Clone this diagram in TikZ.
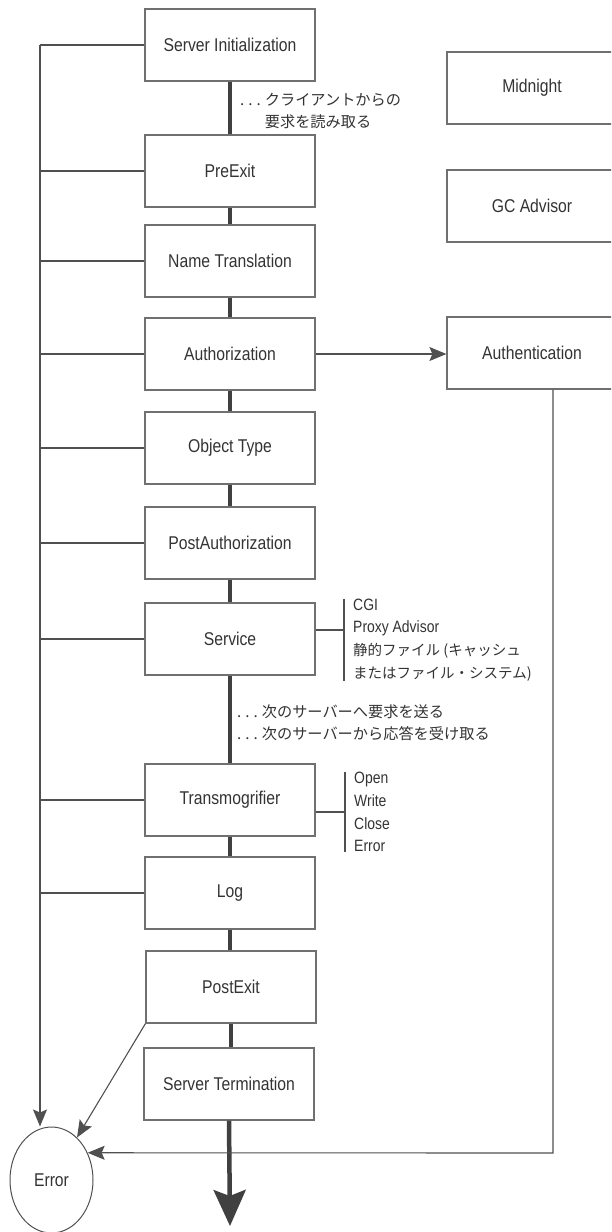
\documentclass[tikz,border=0pt]{standalone}
\usepackage{fontspec}
\setmainfont{Liberation Sans}[FakeStretch=0.85]
\newfontfamily\jp{Noto Sans CJK JP}
\usetikzlibrary{arrows.meta,shapes.geometric,calc}
\definecolor{boxgray}{HTML}{707070}
\definecolor{linegray}{HTML}{505050}
\definecolor{thickgray}{HTML}{404040}
\definecolor{textgray}{HTML}{333333}
\tikzset{>={Stealth[length=17pt,width=14pt,inset=3pt]}}
\tikzset{
  stagebox/.style={draw=boxgray,line width=1.2pt,minimum width=170pt,minimum height=72pt,
    inner sep=0pt,text=textgray,font=\fontsize{18.5}{22}\selectfont},
  flow/.style={line width=4.5pt,thickgray},
  wire/.style={line width=1.1pt,linegray},
  listtext/.style={anchor=west,align=left,inner xsep=9pt,inner ysep=0pt,text=textgray,
    font=\fontsize{16.4}{22.7}\selectfont},
  jnote/.style={anchor=west,align=left,inner sep=0pt,text=textgray,
    font=\jp\fontsize{15.2}{22.5}\selectfont},
}
\newcommand{\jdots}{.\hspace{4pt}.\hspace{4pt}.\hspace{4pt}}
\newcommand{\jsmall}{\jp\fontsize{14.5}{22.7}\selectfont}

\begin{document}
\begin{tikzpicture}[x=1pt,y=-1pt]
    \clip (0,0) rectangle (611,1232);
    % Request stages
    \node[stagebox] (SInit) at (230,45) {Server Initialization};
    \node[stagebox] (PreExit) at (230,171) {PreExit};
    \node[stagebox] (NameTr) at (230,261) {Name Translation};
    \node[stagebox] (Authz) at (230,354) {Authorization};
    \node[stagebox] (ObjType) at (230,448) {Object Type};
    \node[stagebox] (PostAuthz) at (230,543) {PostAuthorization};
    \node[stagebox] (Service) at (230,639) {Service};
    \node[stagebox] (Transmog) at (230,800) {Transmogrifier};
    \node[stagebox] (Log) at (230,893) {Log};
    \node[stagebox] (PostExit) at (231,987) {PostExit};
    \node[stagebox] (STerm) at (229,1084) {Server Termination};
    % Side stages (cut by the right edge)
    \node[stagebox] (Midnight) at (532,88) {Midnight};
    \node[stagebox] (GCAdv) at (532,206) {GC Advisor};
    \node[stagebox] (Authn) at (532,353) {Authentication};
    % Error exit
    \node[ellipse,draw=linegray,line width=1pt,minimum width=83pt,minimum height=106pt,
      inner sep=0pt,text=textgray,font=\fontsize{18.5}{22}\selectfont] (Error) at (51.5,1180) {Error};
    % Main flow
    \foreach \a/\b in {SInit/PreExit,PreExit/NameTr,NameTr/Authz,Authz/ObjType,
        ObjType/PostAuthz,PostAuthz/Service,Service/Transmog,Transmog/Log,Log/PostExit,PostExit/STerm} {
        \draw[flow] (\a.south) -- (\a.south |- \b.north);
    }
    \coordinate (out) at (230,1226);
    \draw[flow,-{Stealth[length=36pt,width=32pt,inset=6pt]}] (STerm.south) -- (out);
    % Notes on the flow
    \node[jnote] (readNote) at (240,111) {\jdots クライアントからの\\\phantom{\jdots}要求を読み取る};
    \node[jnote] (proxyNote) at (237,722.5) {\jdots 次のサーバーへ要求を送る\\\jdots 次のサーバーから応答を受け取る};
    % Error bus on the left
    \coordinate (bus) at (40,45);
    \draw[wire] (SInit.west) -- (bus);
    \foreach \s in {PreExit,NameTr,Authz,ObjType,PostAuthz,Service,Transmog,Log} {
        \draw[wire] (\s.west) -- (\s.west -| bus);
    }
    \draw[wire,->] (bus) -- (bus |- Error.north);
    \draw[wire,->] (PostExit.south west) -- (Error);
    % Authorization calls Authentication
    \draw[wire,->] (Authz.east) -- (Authz.east -| Authn.west);
    \coordinate (ret) at (553,1153);
    \draw[wire,->] (Authn.south -| ret) -- (ret) -- (Error.37);
    % Service kinds
    \node[listtext] (svcList) at (344,640) {CGI\\Proxy Advisor\\{\jsmall 静的ファイル (キャッシュ}\\{\jsmall またはファイル・システム)}};
    \draw[wire] (svcList.north west) -- (svcList.south west);
    \draw[wire] ([yshift=9pt]Service.east) -- ([yshift=9pt]Service.east -| svcList.west);
    % Transmogrifier calls
    \node[listtext] (tmList) at (345,812) {Open\\Write\\Close\\Error};
    \draw[wire] (tmList.north west) -- (tmList.south west);
    \draw[wire] ([yshift=-12pt]Transmog.east) -- ([yshift=-12pt]Transmog.east -| tmList.west);
\end{tikzpicture}
\end{document}
